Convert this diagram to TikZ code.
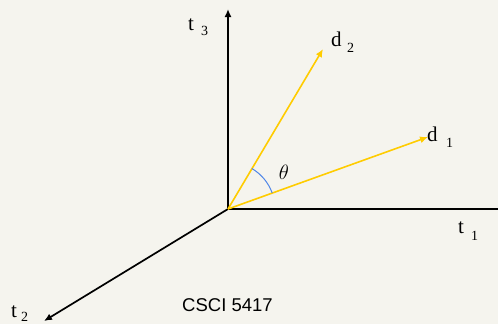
\documentclass[tikz,border=0pt]{standalone}
\usepackage{fontspec}
\setmainfont{Liberation Serif}
\setsansfont{Liberation Sans}
\usetikzlibrary{arrows.meta}
\definecolor{bg}{HTML}{F5F4EE}
\definecolor{vecy}{HTML}{FFCC00}
\definecolor{arcb}{HTML}{4F86E8}
\begin{document}
\begin{tikzpicture}[x=1pt,y=-1pt,
  axis/.style={line width=1.7pt,black},
  vec/.style={line width=1.6pt,vecy,-{Latex[length=8pt,width=7pt]}},
  axarrow/.style={-{Latex[length=8pt,width=7pt]}},
  lab/.style={font=\fontsize{21}{21}\selectfont,inner sep=0pt,anchor=base west},
  sub/.style={font=\fontsize{14}{14}\selectfont,inner sep=0pt,anchor=base west}]
\fill[bg] (0,0) rectangle (498,324);
\useasboundingbox (0,0) rectangle (498,324);
\coordinate (O) at (228,209);
\coordinate (T3) at (228,9);
\coordinate (T1) at (498,209);
\coordinate (T2) at (44,321);
\coordinate (D2) at (323,49);
\coordinate (D1) at (428,137);
\draw[axis,axarrow] (O) -- (T3);
\draw[axis] (O) -- (T1);
\draw[axis,axarrow] (O) -- (T2);
\draw[vec] (O) -- (D2);
\draw[vec] (O) -- (D1);
\draw[arcb,line width=1pt] ([shift={(-59.4:47)}]O) arc[start angle=-59.4,end angle=-19.9,radius=47];
\node[font=\fontsize{22}{22}\selectfont,inner sep=0pt] (th) at (284,172) {$\theta$};
\node[lab] (t3) at (188,30) {t};
\node[sub] (s3) at (201,35) {3};
\node[lab] (d2) at (331,46) {d};
\node[sub] (s2) at (347,52) {2};
\node[lab] (d1) at (427,141) {d};
\node[sub] (s1) at (446,147) {1};
\node[lab] (t1) at (458,233) {t};
\node[sub] (s1b) at (471,240) {1};
\node[lab] (t2) at (11,317) {t};
\node[sub] (s2b) at (21,321) {2};
\node[font=\sffamily\fontsize{18.5}{18.5}\selectfont,inner sep=0pt,anchor=base west] (cs) at (182,311) {CSCI 5417};
\end{tikzpicture}
\end{document}
